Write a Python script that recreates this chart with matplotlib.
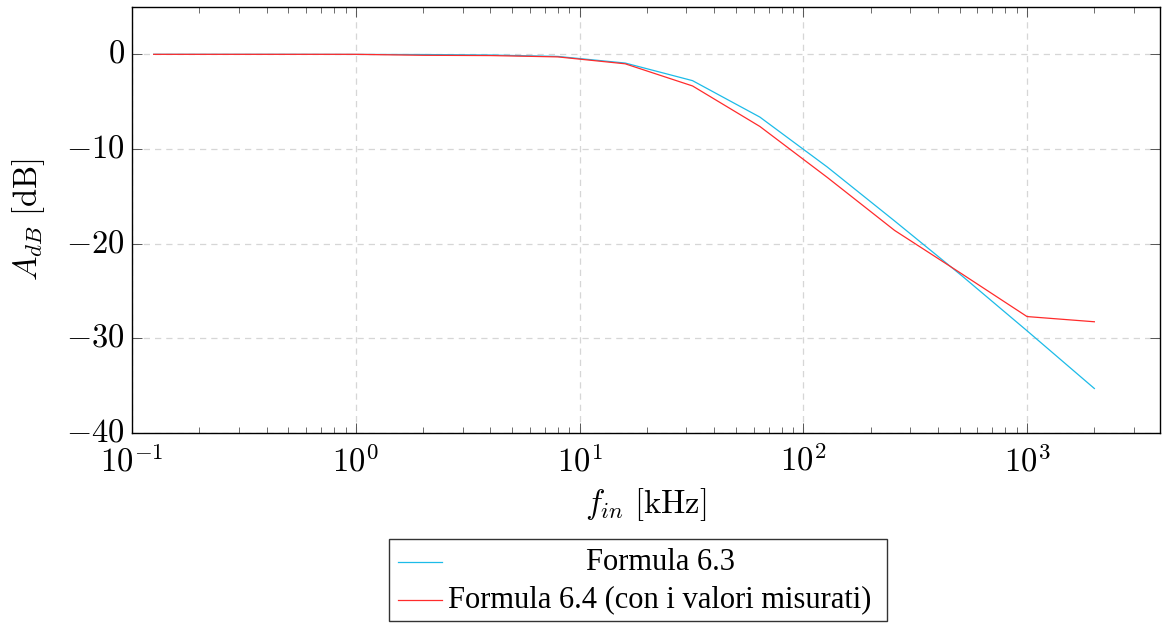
import numpy as np
import matplotlib
matplotlib.use("Agg")
import matplotlib.pyplot as plt
import matplotlib.transforms as mtransforms
from matplotlib.ticker import FixedLocator, FuncFormatter, LogLocator, NullFormatter
from matplotlib.lines import Line2D
from matplotlib.patches import Rectangle

plt.rcParams["mathtext.fontset"] = "cm"
plt.rcParams["font.family"] = ["DejaVu Serif"]

# Frequencies in kHz and gain in dB
freq_khz = [0.125, 0.25, 0.5, 1, 2, 4, 8, 16, 32, 64, 128, 256, 512, 1000, 2000]
gain_formula_63 = [0.0, 0.0, 0.0, -0.01, -0.02, -0.07, -0.22, -0.92, -2.78,
                   -6.63, -11.9, -17.6, -23.4, -29.2, -35.3]
gain_formula_64 = [0.0, 0.0, 0.0, 0.0, -0.1, -0.13, -0.27, -1.0, -3.34,
                   -7.62, -13.0, -18.6, -23.2, -27.7, -28.25]

series_labels = ["Formula 6.3", "Formula 6.4 (con i valori misurati)"]
y_ticks = [0, -10, -20, -30, -40]

color_63 = "#1cbbe8"
color_64 = "#ff2b2b"

W, H = 1163, 624
fig = plt.figure(figsize=(W / 100, H / 100), dpi=100)
ax = fig.add_axes([132 / W, 1 - 433 / H, (1160 - 132) / W, (433 - 7) / H])

ax.plot(freq_khz, gain_formula_63, color=color_63, lw=0.9)
ax.plot(freq_khz, gain_formula_64, color=color_64, lw=0.9)

ax.set_xscale("log")
ax.set_xlim(0.1, 3930)
ax.set_ylim(-40, 5)

ax.xaxis.set_major_locator(FixedLocator([0.1, 1, 10, 100, 1000]))
ax.xaxis.set_minor_locator(LogLocator(base=10, subs=np.arange(2, 10), numticks=20))
ax.xaxis.set_minor_formatter(NullFormatter())
ax.xaxis.set_major_formatter(FuncFormatter(lambda v, p: r"$10^{%d}$" % round(np.log10(v))))
ax.yaxis.set_major_locator(FixedLocator(y_ticks))
ax.yaxis.set_major_formatter(FuncFormatter(lambda v, p: r"$%d$" % round(v)))

ax.grid(True, which="major", color="#d6d6d6", linestyle=(0, (5, 4)), lw=0.9)
ax.set_axisbelow(True)

ax.tick_params(which="both", direction="in", top=True, right=True,
               color="#555555", labelsize=23.5)
ax.tick_params(which="major", length=7, width=0.7)
ax.tick_params(axis="x", which="major", pad=9)
ax.tick_params(axis="y", which="major", pad=5)
ax.tick_params(which="minor", length=4.5, width=0.6)
for s in ax.spines.values():
    s.set_linewidth(1.0)
    s.set_color("black")

# centre the y tick numbers on the digits rather than the full text box
shift_up = mtransforms.ScaledTranslation(0, 4 / 100, fig.dpi_scale_trans)
for lbl in ax.get_yticklabels():
    lbl.set_transform(lbl.get_transform() + shift_up)

ax.set_xlabel(r"$f_{in}\ \mathrm{[kHz]}$", fontsize=23.5, labelpad=6)
ax.set_ylabel(r"$A_{dB}\ \mathrm{[dB]}$", fontsize=23.5, labelpad=14)

# Legend box below the axes, entries centred in the column
lx0, lx1, ly0, ly1 = 389, 887, 539, 621
fig.patches.append(Rectangle((lx0 / W, 1 - ly1 / H), (lx1 - lx0) / W, (ly1 - ly0) / H,
                             transform=fig.transFigure, facecolor="white",
                             edgecolor="#333333", lw=1.0))
for i, (lab, col) in enumerate(zip(series_labels, [color_63, color_64])):
    yy = 562 + i * 38
    fig.lines.append(Line2D([398 / W, 442 / W], [1 - yy / H, 1 - yy / H],
                            transform=fig.transFigure, color=col, lw=0.9))
    fig.text(660 / W, 1 - yy / H, lab, ha="center", va="center",
             fontsize=22, family="Liberation Serif")

fig.savefig("out.png", dpi=100)
